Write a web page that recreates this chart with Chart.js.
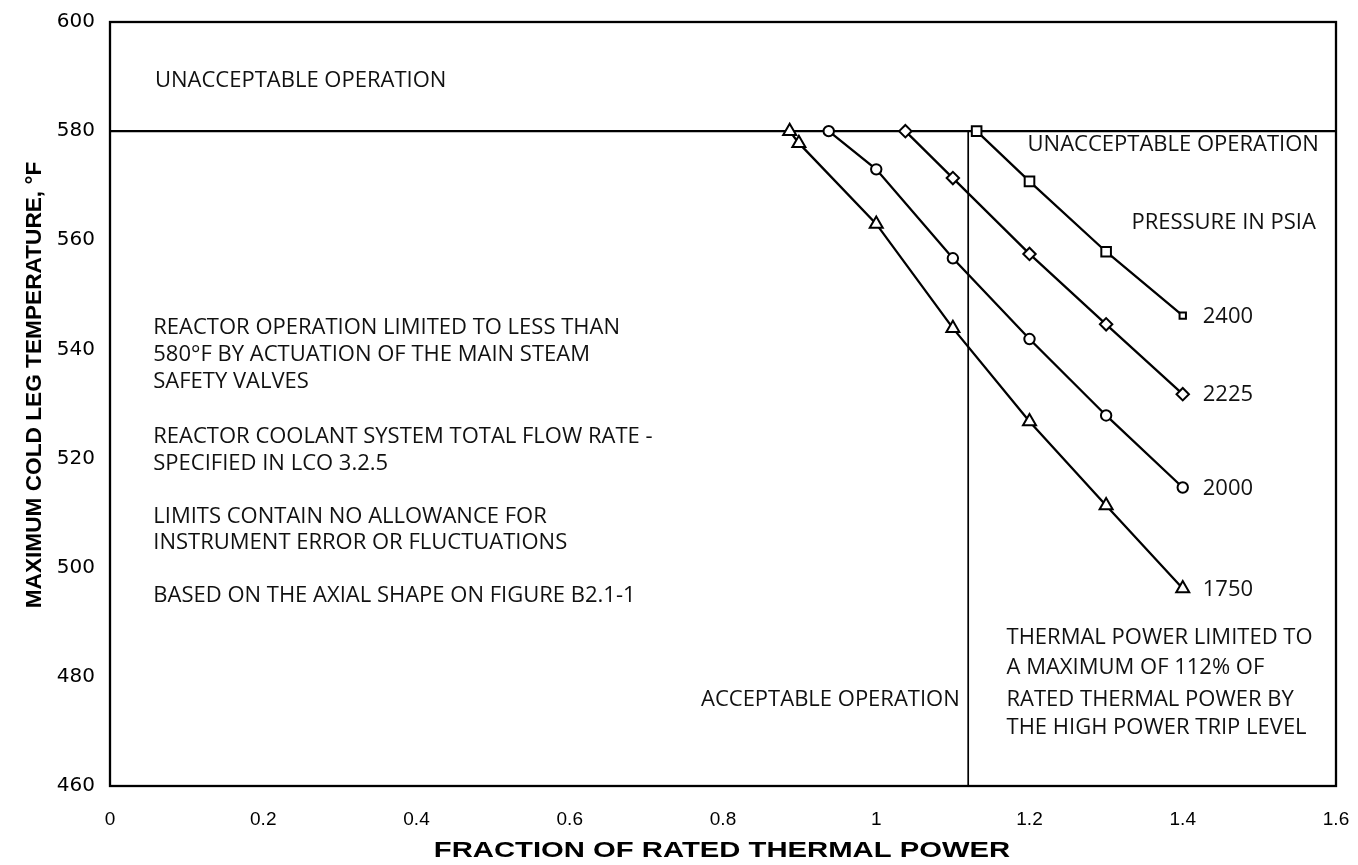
<!DOCTYPE html>
<html>
<head>
<meta charset="utf-8">
<script src="https://cdn.jsdelivr.net/npm/chart.js@4.4.1/dist/chart.umd.min.js"></script>
<style>
  html, body { margin: 0; padding: 0; background: #fff; }
  #wrap { position: relative; width: 1358px; height: 865px; }
</style>
</head>
<body>
<div id="wrap"><canvas id="c" width="1358" height="865"></canvas></div>
<script>
// Axis ticks
const xTicks = [0, 0.2, 0.4, 0.6, 0.8, 1, 1.2, 1.4, 1.6];
const yTicks = [460, 480, 500, 520, 540, 560, 580, 600];

// Limit curves: fraction of rated thermal power vs. max cold leg temperature (°F)
const pressureLabels = ['2400', '2225', '2000', '1750'];
const power2400 = [1.131, 1.2, 1.3, 1.4];
const temp2400  = [580, 570.8, 557.9, 546.2];
const power2225 = [1.038, 1.1, 1.2, 1.3, 1.4];
const temp2225  = [580, 571.4, 557.5, 544.6, 531.8];
const power2000 = [0.938, 1.0, 1.1, 1.2, 1.3, 1.4];
const temp2000  = [580, 573.0, 556.7, 541.9, 527.9, 514.7];
const power1750 = [0.887, 0.899, 1.0, 1.1, 1.2, 1.3, 1.4];
const temp1750  = [580, 577.8, 563.0, 543.9, 526.8, 511.4, 496.2];

// Operating limits
const steamValveLimit = 580;   // °F, main steam safety valves
const highPowerTrip = 1.12;    // fraction of rated thermal power

const pts = (xs, ys) => xs.map((v, i) => ({ x: v, y: ys[i] }));

const curve = (label, xs, ys, style, r) => ({
  label,
  data: pts(xs, ys),
  borderColor: '#000',
  borderWidth: 2.3,
  pointStyle: style,
  pointRadius: ctx => (style === 'rect' && ctx.dataIndex === xs.length - 1) ? 4.5 : r,
  pointBackgroundColor: '#fff',
  pointBorderColor: '#000',
  pointBorderWidth: 2,
  order: 1
});

const refLine = (data, w) => ({
  data, borderColor: '#000', borderWidth: w, pointRadius: 0, order: 2
});

const BODY_FONT = '22px "Open Sans", sans-serif';
const TITLE_FONT = 'bold 22px "Liberation Sans", sans-serif';

const notesPlugin = {
  id: 'notes',
  afterDraw(chart) {
    const { ctx, chartArea: a, scales: { x, y } } = chart;
    ctx.save();
    // frame round the plot area
    ctx.strokeStyle = '#000';
    ctx.lineWidth = 2.3;
    ctx.strokeRect(a.left, a.top, a.right - a.left, a.bottom - a.top);

    ctx.fillStyle = '#111';
    ctx.font = BODY_FONT;
    ctx.textBaseline = 'middle';
    const put = (t, xv, yv, align) => {
      ctx.textAlign = align || 'left';
      ctx.fillText(t, x.getPixelForValue(xv), y.getPixelForValue(yv));
    };
    put('UNACCEPTABLE OPERATION', 0.0587, 589.3);
    put('UNACCEPTABLE OPERATION', 1.1975, 577.5);
    put('PRESSURE IN PSIA', 1.333, 563.2);

    const leftBlock = [
      ['REACTOR OPERATION LIMITED TO LESS THAN', 543.9],
      ['580°F BY ACTUATION OF THE MAIN STEAM', 539.0],
      ['SAFETY VALVES', 534.0],
      ['REACTOR COOLANT SYSTEM TOTAL FLOW RATE -', 524.0],
      ['SPECIFIED IN LCO 3.2.5', 519.1],
      ['LIMITS CONTAIN NO ALLOWANCE FOR', 509.3],
      ['INSTRUMENT ERROR OR FLUCTUATIONS', 504.5],
      ['BASED ON THE AXIAL SHAPE ON FIGURE B2.1-1', 494.8]
    ];
    leftBlock.forEach(([t, yv]) => put(t, 0.0565, yv));

    const tripBlock = [
      ['THERMAL POWER LIMITED TO', 487.1],
      ['A MAXIMUM OF 112% OF', 481.6],
      ['RATED THERMAL POWER BY', 475.8],
      ['THE HIGH POWER TRIP LEVEL', 470.6]
    ];
    tripBlock.forEach(([t, yv]) => put(t, 1.170, yv));
    put('ACCEPTABLE OPERATION', 1.109, 475.8, 'right');

    // pressure labels at the end of each curve
    ctx.textAlign = 'left';
    pressureLabels.forEach((lab, i) => {
      const meta = chart.getDatasetMeta(i);
      const last = meta.data[meta.data.length - 1];
      ctx.fillText(lab, last.x + 20, last.y + 1);
    });

    // axis titles (bold, slightly extended lettering)
    ctx.font = TITLE_FONT;
    ctx.fillStyle = '#000';
    ctx.textAlign = 'center';
    ctx.save();
    ctx.translate(722, 851);
    ctx.scale(1.33, 1);
    ctx.fillText('FRACTION OF RATED THERMAL POWER', 0, 0);
    ctx.restore();
    ctx.translate(35, 385);
    ctx.rotate(-Math.PI / 2);
    ctx.scale(1.03, 1);
    ctx.fillText('MAXIMUM COLD LEG TEMPERATURE, °F', 0, 0);
    ctx.restore();
  }
};

new Chart(document.getElementById('c'), {
  type: 'line',
  data: {
    datasets: [
      curve(pressureLabels[0], power2400, temp2400, 'rect', 6.8),
      curve(pressureLabels[1], power2225, temp2225, 'rectRot', 6.2),
      curve(pressureLabels[2], power2000, temp2000, 'circle', 5.2),
      curve(pressureLabels[3], power1750, temp1750, 'triangle', 7.5),
      refLine([{ x: 0, y: steamValveLimit }, { x: 1.6, y: steamValveLimit }], 2.3),
      refLine([{ x: highPowerTrip, y: 460 }, { x: highPowerTrip, y: steamValveLimit }], 1.7)
    ]
  },
  options: {
    responsive: false,
    animation: false,
    devicePixelRatio: 1,
    layout: { padding: { left: 0, top: 22, right: 22, bottom: 0 } },
    plugins: { legend: { display: false }, tooltip: { enabled: false } },
    elements: { line: { tension: 0 } },
    scales: {
      x: {
        type: 'linear', min: 0, max: 1.6,
        grid: { display: false, drawTicks: false }, border: { display: false },
        afterBuildTicks: s => { s.ticks = xTicks.map(v => ({ value: v })); },
        afterFit: s => { s.height = 79; s.paddingLeft = 0; s.paddingRight = 0; },
        ticks: {
          padding: 22, color: '#000',
          font: { family: '"Liberation Sans", sans-serif', size: 19 },
          callback: v => String(v)
        }
      },
      y: {
        type: 'linear', min: 460, max: 600,
        grid: { display: false, drawTicks: false }, border: { display: false },
        afterBuildTicks: s => { s.ticks = yTicks.map(v => ({ value: v })); },
        afterFit: s => { s.width = 110; s.paddingTop = 0; s.paddingBottom = 0; },
        ticks: {
          padding: 15, color: '#000',
          font: { family: '"DejaVu Sans", sans-serif', size: 20 },
          callback: v => String(v)
        }
      }
    }
  },
  plugins: [notesPlugin]
});
</script>
</body>
</html>
